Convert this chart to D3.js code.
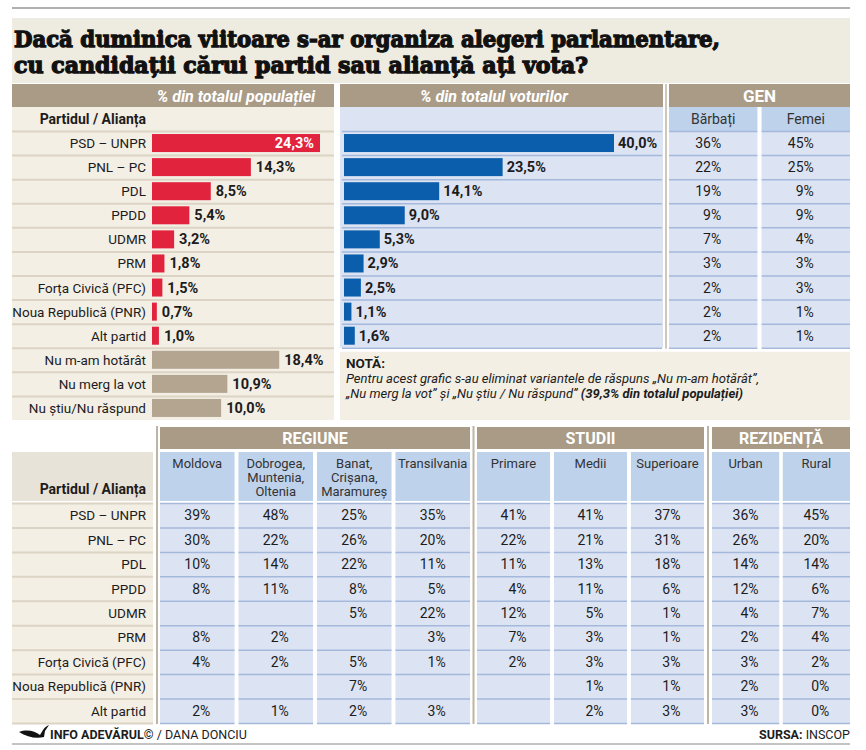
<!DOCTYPE html>
<html>
<head>
<meta charset="utf-8">
<script src="https://cdn.jsdelivr.net/npm/d3@7"></script>
<style>
  body { margin: 0; background: #fff; }
  svg { display: block; }
</style>
</head>
<body>
<div id="chart"></div>
<script>
// ---- Date (sondaj INSCOP) ----
const parties      = ["PSD – UNPR", "PNL – PC", "PDL", "PPDD", "UDMR", "PRM", "Forța Civică (PFC)", "Noua Republică (PNR)", "Alt partid"];
const otherAnswers = ["Nu m-am hotărât", "Nu merg la vot", "Nu știu/Nu răspund"];
const popShare     = [24.3, 14.3, 8.5, 5.4, 3.2, 1.8, 1.5, 0.7, 1.0, 18.4, 10.9, 10.0];
const voteShare    = [40.0, 23.5, 14.1, 9.0, 5.3, 2.9, 2.5, 1.1, 1.6];

const genderCols = ["Bărbați", "Femei"];
const men        = [36, 22, 19, 9, 7, 3, 2, 2, 2];
const women      = [45, 25, 9, 9, 4, 3, 3, 1, 1];

const regionCols   = [["Moldova"], ["Dobrogea,", "Muntenia,", "Oltenia"], ["Banat,", "Crișana,", "Maramureș"], ["Transilvania"]];
const moldova      = [39, 30, 10, 8, null, 8, 4, null, 2];
const dobrogea     = [48, 22, 14, 11, null, 2, 2, null, 1];
const banat        = [25, 26, 22, 8, 5, null, 5, 7, 2];
const transilvania = [35, 20, 11, 5, 22, 3, 1, null, 3];

const studyCols  = [["Primare"], ["Medii"], ["Superioare"]];
const primare    = [41, 22, 11, 4, 12, 7, 2, null, null];
const medii      = [41, 21, 13, 11, 5, 3, 3, 1, 2];
const superioare = [37, 31, 18, 6, 1, 1, 3, 1, 3];

const residenceCols = [["Urban"], ["Rural"]];
const urban         = [36, 26, 14, 12, 4, 2, 3, 2, 3];
const rural         = [45, 20, 14, 6, 7, 4, 2, 0, 0];

// ---- Stil ----
const W = 866, H = 750;
const C = {
    brown:     '#a99b86',
    beige:     '#f3efe5',
    beigeDark: '#e8e3d8',
    titleBg:   '#eeebe1',
    blue:      '#dce4f4',
    subBlue:   '#bfd2ec',
    red:       '#e2233e',
    barBlue:   '#0b5eab',
    grey:      '#b4a591',
    lineBeige: '#dcd4c4',
    lineBlue:  '#a3b8da',
    sep:       '#bdb5a6',
    text:      '#1c1c1c'
};
const fmt = v => d3.format('.1f')(v).replace('.', ',') + '%';

const svg = d3.select('#chart').append('svg')
    .attr('width', W).attr('height', H)
    .style('font-family', 'Roboto, "Noto Sans", sans-serif');

// ---- Titlu ----
svg.append('line').attr('x1', 12).attr('x2', 850).attr('y1', 8).attr('y2', 8)
    .attr('stroke', '#b0b0b0').attr('stroke-width', 2);
svg.append('rect').attr('x', 12).attr('y', 18).attr('width', 838).attr('height', 65).attr('fill', C.titleBg);

const titleLines = [
    ["Dacă duminica viitoare s-ar organiza alegeri parlamentare,", 47, 706],
    ["cu candidații cărui partid sau alianță ați vota?", 73, 574]
];
svg.selectAll('text.title').data(titleLines).join('text')
    .attr('class', 'title')
    .attr('x', 14).attr('y', d => d[1])
    .attr('textLength', d => d[2]).attr('lengthAdjust', 'spacingAndGlyphs')
    .style('font-family', '"DejaVu Serif", serif')
    .attr('font-weight', 'bold').attr('font-size', 22).attr('fill', '#111')
    .attr('stroke', '#111').attr('stroke-width', 1.3)
    .text(d => d[0]);

// ---- Secțiunea de sus ----
const topRows = d3.scaleBand().domain(d3.range(popShare.length)).range([131, 420]);
const voteRows = d3.scaleBand().domain(d3.range(voteShare.length)).range([131, 131 + topRows.step() * voteShare.length]);
const voteBottom = voteRows.range()[1];

function brownHeader(x, w, label, opts = {}) {
    svg.append('rect').attr('x', x).attr('y', opts.y || 84).attr('width', w).attr('height', opts.h || 23).attr('fill', C.brown);
    svg.append('text')
        .attr('x', opts.cx || x + w / 2).attr('y', (opts.y || 84) + (opts.dy || 17))
        .attr('text-anchor', 'middle').attr('fill', '#fff')
        .attr('font-weight', 'bold').attr('font-style', opts.italic ? 'italic' : 'normal')
        .attr('font-size', opts.size || 14)
        .text(label);
}

// Panou stânga: % din totalul populației
svg.append('rect').attr('x', 12).attr('y', 107).attr('width', 322).attr('height', 313).attr('fill', C.beige);
brownHeader(12, 322, '% din totalul populației', { italic: true, cx: 236, size: 16, dy: 18 });
svg.append('text').attr('x', 146).attr('y', 124).attr('text-anchor', 'end')
    .attr('font-weight', 'bold').attr('font-size', 14).attr('fill', C.text).text('Partidul / Alianța');

const popLabels = parties.concat(otherAnswers);
const xPop = d3.scaleLinear().domain([0, 24.3]).range([152, 320]);

svg.append('g').selectAll('line').data(d3.range(popShare.length)).join('line')
    .attr('x1', 12).attr('x2', 334)
    .attr('y1', i => topRows(i) + 0.5).attr('y2', i => topRows(i) + 0.5)
    .attr('stroke', C.lineBeige).attr('stroke-width', 2);

svg.append('g').selectAll('text').data(popLabels).join('text')
    .attr('x', 146).attr('y', (d, i) => topRows(i) + topRows.bandwidth() / 2 + 5)
    .attr('text-anchor', 'end').attr('font-size', 13.5).attr('fill', C.text)
    .text(d => d);

svg.append('g').selectAll('rect').data(popShare).join('rect')
    .attr('x', xPop(0))
    .attr('y', (d, i) => topRows(i) + topRows.bandwidth() / 2 - 9)
    .attr('width', d => xPop(d) - xPop(0)).attr('height', 18)
    .attr('fill', (d, i) => i < parties.length ? C.red : C.grey);

svg.append('g').selectAll('text').data(popShare).join('text')
    .attr('x', (d, i) => i === 0 ? xPop(d) - 6 : xPop(d) + 5)
    .attr('y', (d, i) => topRows(i) + topRows.bandwidth() / 2 + 5)
    .attr('text-anchor', (d, i) => i === 0 ? 'end' : 'start')
    .attr('font-weight', 'bold').attr('font-size', 14.5)
    .attr('fill', (d, i) => i === 0 ? '#fff' : C.text)
    .text(fmt);

// Panou mijloc: % din totalul voturilor
svg.append('rect').attr('x', 340).attr('y', 107).attr('width', 323).attr('height', voteBottom - 107).attr('fill', C.blue);
brownHeader(340, 323, '% din totalul voturilor', { italic: true, cx: 494, size: 16, dy: 18 });

const xVote = d3.scaleLinear().domain([0, 40]).range([344, 614]);

svg.append('g').selectAll('line').data(d3.range(voteShare.length + 1)).join('line')
    .attr('x1', 342).attr('x2', 662)
    .attr('y1', i => (i < voteShare.length ? voteRows(i) : voteBottom) + 0.5)
    .attr('y2', i => (i < voteShare.length ? voteRows(i) : voteBottom) + 0.5)
    .attr('stroke', C.lineBlue).attr('stroke-width', 1.5);

svg.append('g').selectAll('rect').data(voteShare).join('rect')
    .attr('x', xVote(0))
    .attr('y', (d, i) => voteRows(i) + voteRows.bandwidth() / 2 - 9)
    .attr('width', d => xVote(d) - xVote(0)).attr('height', 18)
    .attr('fill', C.barBlue);

svg.append('g').selectAll('text').data(voteShare).join('text')
    .attr('x', d => xVote(d) + 4)
    .attr('y', (d, i) => voteRows(i) + voteRows.bandwidth() / 2 + 5)
    .attr('font-weight', 'bold').attr('font-size', 14.5).attr('fill', C.text)
    .text(fmt);

// Separator mijloc / GEN
svg.append('line').attr('x1', 666).attr('x2', 666).attr('y1', 84).attr('y2', voteBottom + 1)
    .attr('stroke', C.sep).attr('stroke-width', 1.5);

// GEN
brownHeader(669, 181, 'GEN', { size: 17, dy: 18 });
const genX = d3.scaleBand().domain(genderCols).range([669, 850]).paddingInner(0.045);
const genData = [men, women];

genderCols.forEach((col, ci) => {
    const x0 = genX(col), bw = genX.bandwidth();
    svg.append('rect').attr('x', x0).attr('y', 107).attr('width', bw).attr('height', 24).attr('fill', C.subBlue);
    svg.append('text').attr('x', x0 + bw / 2).attr('y', 124).attr('text-anchor', 'middle')
        .attr('font-size', 14).attr('fill', '#333').text(col);
    svg.append('rect').attr('x', x0).attr('y', 131).attr('width', bw).attr('height', voteBottom - 131).attr('fill', C.blue);
    svg.append('g').selectAll('line').data(d3.range(voteShare.length + 1)).join('line')
        .attr('x1', x0).attr('x2', x0 + bw)
        .attr('y1', i => (i < voteShare.length ? voteRows(i) : voteBottom) + 0.5)
        .attr('y2', i => (i < voteShare.length ? voteRows(i) : voteBottom) + 0.5)
        .attr('stroke', C.lineBlue).attr('stroke-width', 1.5);
    svg.append('g').selectAll('text').data(genData[ci]).join('text')
        .attr('x', x0 + bw / 2 + 8)
        .attr('y', (d, i) => voteRows(i) + voteRows.bandwidth() / 2 + 5)
        .attr('text-anchor', 'end').attr('font-size', 14).attr('fill', C.text)
        .text(d => d + '%');
});

// Notă
svg.append('rect').attr('x', 340).attr('y', voteBottom + 4).attr('width', 510).attr('height', 420 - voteBottom - 4).attr('fill', C.beige);
svg.append('text').attr('x', 346).attr('y', 368).attr('font-weight', 'bold').attr('font-size', 13.5).attr('fill', C.text).text('NOTĂ:');
svg.append('text').attr('x', 346).attr('y', 383).attr('font-style', 'italic').attr('font-size', 13).attr('fill', C.text)
    .text('Pentru acest grafic s-au eliminat variantele de răspuns „Nu m-am hotărât”,');
const note2 = svg.append('text').attr('x', 346).attr('y', 398).attr('font-style', 'italic').attr('font-size', 13).attr('fill', C.text);
note2.append('tspan').text('„Nu merg la vot” și „Nu știu / Nu răspund” ');
note2.append('tspan').attr('font-weight', 'bold').text('(39,3% din totalul populației)');

// ---- Secțiunea de jos ----
const botRows = d3.scaleBand().domain(d3.range(parties.length)).range([503, 723]);

svg.append('rect').attr('x', 12).attr('y', 452).attr('width', 141).attr('height', 49).attr('fill', C.beigeDark);
svg.append('text').attr('x', 146).attr('y', 494).attr('text-anchor', 'end')
    .attr('font-weight', 'bold').attr('font-size', 14).attr('fill', C.text).text('Partidul / Alianța');
svg.append('rect').attr('x', 12).attr('y', 503).attr('width', 141).attr('height', 220).attr('fill', C.beige);
svg.append('g').selectAll('line').data(d3.range(parties.length + 1)).join('line')
    .attr('x1', 12).attr('x2', 153)
    .attr('y1', i => (i < parties.length ? botRows(i) : 723) + 0.5)
    .attr('y2', i => (i < parties.length ? botRows(i) : 723) + 0.5)
    .attr('stroke', C.lineBeige).attr('stroke-width', 2);
svg.append('g').selectAll('text').data(parties).join('text')
    .attr('x', 146).attr('y', (d, i) => botRows(i) + botRows.bandwidth() / 2 + 5)
    .attr('text-anchor', 'end').attr('font-size', 13.5).attr('fill', C.text)
    .text(d => d);

const groups = [
    { name: 'REGIUNE',   range: [160, 470], cols: regionCols,    data: [moldova, dobrogea, banat, transilvania] },
    { name: 'STUDII',    range: [477, 704], cols: studyCols,     data: [primare, medii, superioare] },
    { name: 'REZIDENȚĂ', range: [712, 850], cols: residenceCols, data: [urban, rural] }
];

[157, 473.5, 708].forEach(x => {
    svg.append('line').attr('x1', x).attr('x2', x).attr('y1', 426).attr('y2', 724)
        .attr('stroke', C.sep).attr('stroke-width', 2);
});

groups.forEach(g => {
    const [a, b] = g.range;
    brownHeader(a, b - a, g.name, { y: 427, h: 22, dy: 17, size: 16 });
    const colX = d3.scaleBand().domain(d3.range(g.cols.length)).range(g.range).paddingInner(0.05);
    const bw = colX.bandwidth();
    g.cols.forEach((lines, ci) => {
        const x0 = colX(ci);
        svg.append('rect').attr('x', x0).attr('y', 452).attr('width', bw).attr('height', 49).attr('fill', C.subBlue);
        svg.append('g').selectAll('text').data(lines).join('text')
            .attr('x', x0 + bw / 2).attr('y', (d, i) => 468 + i * 14)
            .attr('text-anchor', 'middle').attr('font-size', 13).attr('fill', '#333')
            .text(d => d);
        svg.append('rect').attr('x', x0).attr('y', 503).attr('width', bw).attr('height', 220).attr('fill', C.blue);
        svg.append('g').selectAll('line').data(d3.range(parties.length + 1)).join('line')
            .attr('x1', x0).attr('x2', x0 + bw)
            .attr('y1', i => (i < parties.length ? botRows(i) : 723) + 0.5)
            .attr('y2', i => (i < parties.length ? botRows(i) : 723) + 0.5)
            .attr('stroke', C.lineBlue).attr('stroke-width', 1.5);
        svg.append('g').selectAll('text').data(g.data[ci]).join('text')
            .attr('x', x0 + bw / 2 + 13)
            .attr('y', (d, i) => botRows(i) + botRows.bandwidth() / 2 + 5)
            .attr('text-anchor', 'end').attr('font-size', 14).attr('fill', C.text)
            .text(d => d === null ? '' : d + '%');
    });
});

// ---- Subsol ----
svg.append('path')
    .attr('d', 'M19,732 C27,729 35,731 40,735 L43,730 C45,727 47,726 49,725 L45,731 L44,737 C36,739 27,737 19,732 Z')
    .attr('fill', '#111');
const credit = svg.append('text').attr('x', 50).attr('y', 739).attr('font-size', 12.5).attr('fill', C.text);
credit.append('tspan').attr('font-weight', 'bold').text('INFO ADEVĂRUL©');
credit.append('tspan').text(' / DANA DONCIU');
const src = svg.append('text').attr('x', 850).attr('y', 739).attr('text-anchor', 'end').attr('font-size', 12.5).attr('fill', C.text);
src.append('tspan').attr('font-weight', 'bold').text('SURSA:');
src.append('tspan').text(' INSCOP');
svg.append('line').attr('x1', 12).attr('x2', 850).attr('y1', 744).attr('y2', 744)
    .attr('stroke', '#b0b0b0').attr('stroke-width', 1.5);
</script>
</body>
</html>
